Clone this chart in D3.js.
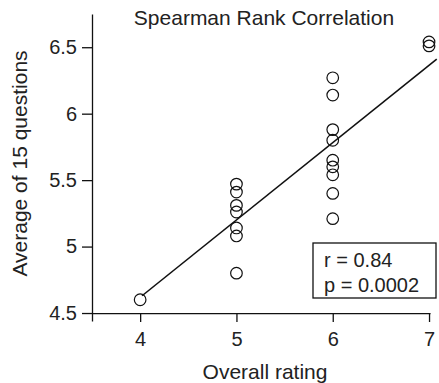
<!DOCTYPE html>
<html><head><meta charset="utf-8">
<script src="https://cdn.jsdelivr.net/npm/d3@7"></script>
<style>body{margin:0;background:#fff}svg{display:block}text{font-family:"Liberation Sans",Arial,sans-serif;fill:#222}</style>
</head><body>
<script>
const ratings = [4, 5,5,5,5,5,5,5, 6,6,6,6,6,6,6,6,6, 7,7];
const averages = [4.60, 5.47,5.41,5.31,5.26,5.14,5.08,4.80, 6.27,6.14,5.88,5.80,5.65,5.60,5.54,5.40,5.21, 6.54,6.51];
const regX = [4.02, 7.08];
const regY = [4.63, 6.41];
const xTicks = [4,5,6,7];
const yTicks = [4.5,5,5.5,6,6.5];
const title = "Spearman Rank Correlation";
const statLines = ["r = 0.84", "p = 0.0002"];

const W = 439, H = 383;
const svg = d3.select("body").append("svg").attr("width", W).attr("height", H);
const x = d3.scaleLinear().domain([3.5, 7.01]).range([92, 430]);
const y = d3.scaleLinear().domain([4.44, 6.75]).range([321, 14]);

const xa = svg.append("g").attr("transform", `translate(0,${y(4.5)})`)
  .call(d3.axisBottom(x).tickValues(xTicks).tickFormat(d3.format("d")).tickSize(9).tickSizeOuter(0).tickPadding(10));
const ya = svg.append("g").attr("transform", `translate(${x(3.5)},0)`)
  .call(d3.axisLeft(y).tickValues(yTicks).tickFormat(d => d % 1 === 0 ? d3.format("d")(d) : d3.format(".1f")(d)).tickSize(10).tickSizeOuter(0).tickPadding(5));
[xa, ya].forEach(g => {
  g.select(".domain").attr("stroke", "#111").attr("stroke-width", 1.3);
  g.selectAll(".tick line").attr("stroke", "#111").attr("stroke-width", 1.3);
  g.selectAll(".tick text").attr("font-size", 20).attr("fill", "#222")
   .attr("font-family", '"Liberation Sans",Arial,sans-serif');
});

svg.append("line")
  .attr("x1", x(regX[0])).attr("y1", y(regY[0]))
  .attr("x2", x(regX[1])).attr("y2", y(regY[1]))
  .attr("stroke", "#111").attr("stroke-width", 1.6);

svg.append("g").selectAll("circle").data(ratings).join("circle")
  .attr("cx", d => x(d)).attr("cy", (d, i) => y(averages[i])).attr("r", 5.8)
  .attr("fill", "none").attr("stroke", "#111").attr("stroke-width", 1.2);

svg.append("text").attr("x", 264).attr("y", 25).attr("text-anchor", "middle")
  .attr("font-size", 21).text(title);
svg.append("text").attr("x", 265).attr("y", 379).attr("text-anchor", "middle")
  .attr("font-size", 21).text("Overall rating");
svg.append("text").attr("transform", "translate(27,163.5) rotate(-90)").attr("text-anchor", "middle")
  .attr("font-size", 21).text("Average of 15 questions");

svg.append("rect").attr("x", 313).attr("y", 243).attr("width", 123).attr("height", 55)
  .attr("fill", "#fff").attr("stroke", "#111").attr("stroke-width", 1.3);
svg.append("g").selectAll("text").data(statLines).join("text")
  .attr("x", 324).attr("y", (d, i) => 267 + i * 25).attr("font-size", 20).text(d => d);
</script>
</body></html>
